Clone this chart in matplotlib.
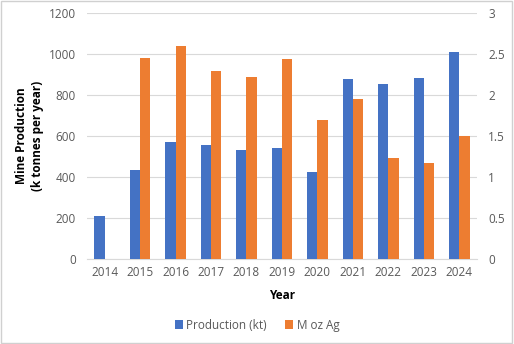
import numpy as np
import matplotlib.pyplot as plt
from matplotlib.patches import Rectangle

plt.rcParams['font.family'] = ['Open Sans', 'DejaVu Sans']

# Data
years = ['2014', '2015', '2016', '2017', '2018', '2019', '2020', '2021', '2022', '2023', '2024']
production_kt = [211, 432, 571, 554, 532, 543, 423, 878, 852, 883, 1011]
moz_ag = [np.nan, 2.45, 2.60, 2.29, 2.22, 2.435, 1.695, 1.955, 1.23, 1.175, 1.50]

blue = '#4472C4'
orange = '#ED7D31'
grid_col = '#D9D9D9'
tick_col = '#595959'

fig = plt.figure(figsize=(5.14, 3.44), dpi=100)
ax = fig.add_axes([0.169, 0.247, 0.759, 0.715])
ax2 = ax.twinx()

x = np.arange(len(years))
w = 0.29
ax.bar(x - w / 2, production_kt, w, color=blue, label='Production (kt)', zorder=3)
ax2.bar(x + w / 2, moz_ag, w, color=orange, label='M oz Ag', zorder=3)

ax.set_xlim(-0.5, len(years) - 0.5)
ax.set_ylim(0, 1200)
ax.set_yticks(range(0, 1201, 200))
ax2.set_ylim(0, 3)
ax2.set_yticks([0, 0.5, 1, 1.5, 2, 2.5, 3])
ax2.set_yticklabels(['0', '0.5', '1', '1.5', '2', '2.5', '3'])

ax.set_xticks(x)
ax.set_xticklabels(years)
ax.yaxis.grid(True, color=grid_col, linewidth=0.8, zorder=0)
ax.set_axisbelow(True)

for a in (ax, ax2):
    for s in a.spines.values():
        s.set_visible(False)
    a.tick_params(length=0, labelsize=8.5, colors=tick_col, pad=8)
ax.spines['bottom'].set_visible(True)
ax.spines['bottom'].set_color(grid_col)
ax.tick_params(axis='x', pad=5)

ax.set_xlabel('Year', fontsize=8.5, fontweight='bold', labelpad=7)
ax.set_ylabel('Mine Production\n(k tonnes per year)', fontsize=8.5, fontweight='bold',
              labelpad=3, linespacing=1.35)

h1, l1 = ax.get_legend_handles_labels()
h2, l2 = ax2.get_legend_handles_labels()
fig.legend(h1 + h2, l1 + l2, loc='center', bbox_to_anchor=(0.5, 0.055), ncol=2,
           frameon=False, fontsize=8.5, handlelength=0.7, handleheight=0.7,
           handletextpad=0.3, columnspacing=1.5, labelcolor=tick_col)

fig.patches.append(Rectangle((0.002, 0.004), 0.994, 0.992, transform=fig.transFigure,
                             fill=False, edgecolor='#D0D0D0', linewidth=1))

fig.savefig('out.png', dpi=100)
